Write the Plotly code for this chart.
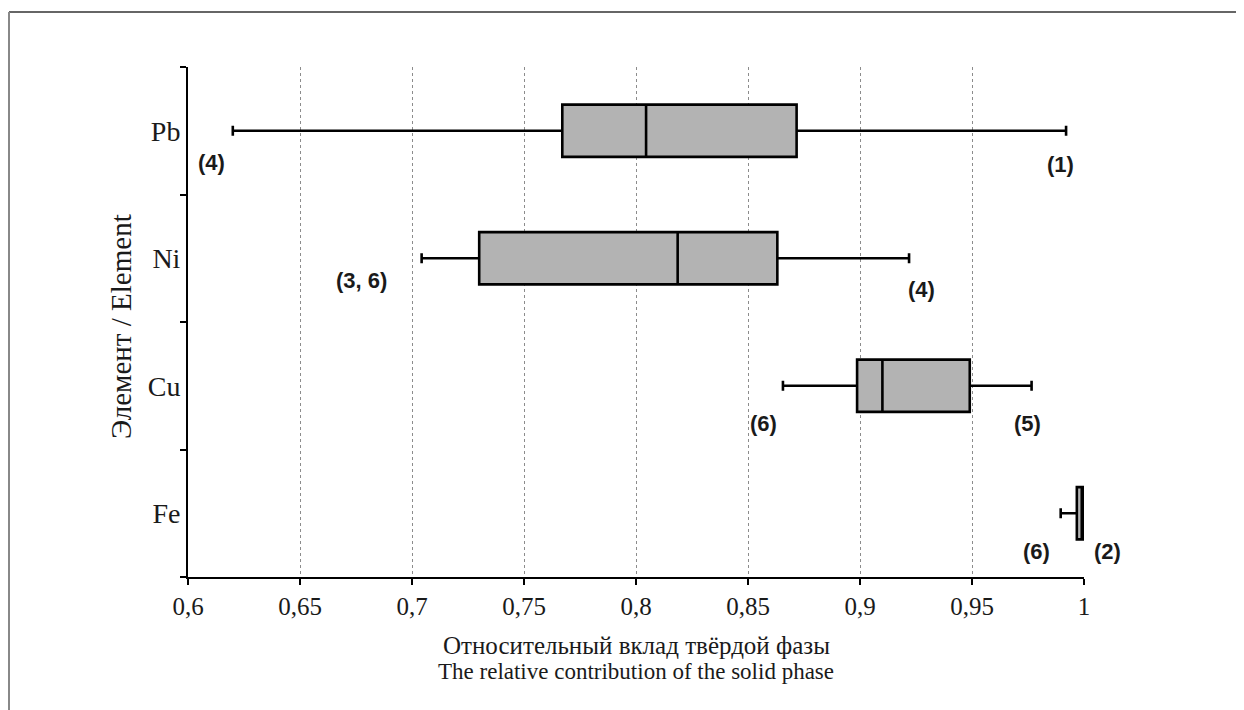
import plotly.graph_objects as go

# ---- data ----
elements = ["Fe", "Cu", "Ni", "Pb"]
lower_whisker = [0.9896, 0.8656, 0.7043, 0.620]
q1_values = [0.9968, 0.8987, 0.7300, 0.7671]
median_values = [0.9990, 0.9100, 0.8186, 0.8045]
q3_values = [1.0000, 0.9490, 0.8631, 0.8717]
upper_whisker = [1.0000, 0.9766, 0.9219, 0.9920]

left_labels = ["(6)", "(6)", "(3, 6)", "(4)"]
right_labels = ["(2)", "(5)", "(4)", "(1)"]

tick_values = [0.6, 0.65, 0.7, 0.75, 0.8, 0.85, 0.9, 0.95, 1.0]
tick_labels = ["0,6", "0,65", "0,7", "0,75", "0,8", "0,85", "0,9", "0,95", "1"]

x_title_lines = ["Относительный вклад твёрдой фазы", "The relative contribution of the solid phase"]
y_title = "Элемент / Element"

# ---- geometry (page has an 8px body margin) ----
OFF = 8
W, H = 1244 - OFF, 710 - OFF
L, T = 188 - OFF, 67 - OFF
R = W - (1084 - OFF)
B = H - (577 - OFF)
pw, ph = W - L - R, H - T - B


def px(xpage):
    return (xpage - OFF - L) / pw


def py(ypage):
    return (H - B - (ypage - OFF)) / ph


# ---- figure ----
fig = go.Figure()
fig.add_trace(go.Box(
    y=elements,
    q1=q1_values,
    median=median_values,
    q3=q3_values,
    lowerfence=lower_whisker,
    upperfence=upper_whisker,
    orientation="h",
    boxpoints=False,
    width=0.41,
    whiskerwidth=0.19,
    fillcolor="#b3b3b3",
    line=dict(color="black", width=2.6),
    hoverinfo="skip",
    showlegend=False,
))

# label offsets in pixels (left label, right label) per element
left_shift = [(-24, -38), (-19, -38), (-60, -22), (-21, -32)]
right_shift = [(23, -38), (-4, -38), (12, -31), (-6, -34)]
lab_font = dict(family="Liberation Sans", size=22, color="#1a1a1a")

annotations = []
for i, el in enumerate(elements):
    annotations.append(dict(
        x=lower_whisker[i], y=el, xref="x", yref="y", text="<b>" + left_labels[i] + "</b>",
        showarrow=False, xshift=left_shift[i][0], yshift=left_shift[i][1], font=lab_font,
    ))
    annotations.append(dict(
        x=upper_whisker[i], y=el, xref="x", yref="y", text="<b>" + right_labels[i] + "</b>",
        showarrow=False, xshift=right_shift[i][0], yshift=right_shift[i][1], font=lab_font,
    ))

annotations.append(dict(x=0.5, y=py(645), xref="paper", yref="paper", text=x_title_lines[0],
                        showarrow=False, xanchor="center", yanchor="middle",
                        font=dict(family="Liberation Serif", size=25, color="#1a1a1a")))
annotations.append(dict(x=0.5, y=py(671), xref="paper", yref="paper", text=x_title_lines[1],
                        showarrow=False, xanchor="center", yanchor="middle",
                        font=dict(family="Liberation Serif", size=23, color="#1a1a1a")))
annotations.append(dict(x=px(121), y=py(327), xref="paper", yref="paper", text=y_title,
                        textangle=-90, showarrow=False, xanchor="center", yanchor="middle",
                        font=dict(family="Liberation Serif", size=29, color="#1a1a1a")))

shapes = [
    dict(type="line", xref="paper", yref="paper", x0=px(9), x1=px(1244), y0=py(12), y1=py(12),
         line=dict(color="#333333", width=1.5)),
    dict(type="line", xref="paper", yref="paper", x0=px(9), x1=px(9), y0=py(12), y1=py(712),
         line=dict(color="#888888", width=2)),
]

fig.update_layout(
    width=W, height=H,
    margin=dict(l=L, r=R, t=T, b=B),
    paper_bgcolor="white",
    plot_bgcolor="white",
    font=dict(family="Liberation Serif", size=20, color="#1a1a1a"),
    annotations=annotations,
    shapes=shapes,
    xaxis=dict(
        range=[0.6, 1.0],
        tickvals=tick_values,
        ticktext=tick_labels,
        ticks="outside", ticklen=6, tickcolor="black", tickwidth=1.5,
        showline=True, linecolor="black", linewidth=2,
        showgrid=True, gridcolor="#8c8c8c", griddash="dot", gridwidth=1,
        zeroline=False,
        tickfont=dict(family="Liberation Serif", size=25, color="#1a1a1a"),
    ),
    yaxis=dict(
        type="category",
        categoryorder="array", categoryarray=elements,
        range=[-0.5, 3.5],
        tickson="boundaries",
        ticks="outside", ticklen=6, tickcolor="black", tickwidth=1.5,
        showline=True, linecolor="black", linewidth=2,
        showgrid=False, zeroline=False,
        tickfont=dict(family="Liberation Serif", size=28, color="#1a1a1a"),
    ),
)

fig.write_html("out.html")
